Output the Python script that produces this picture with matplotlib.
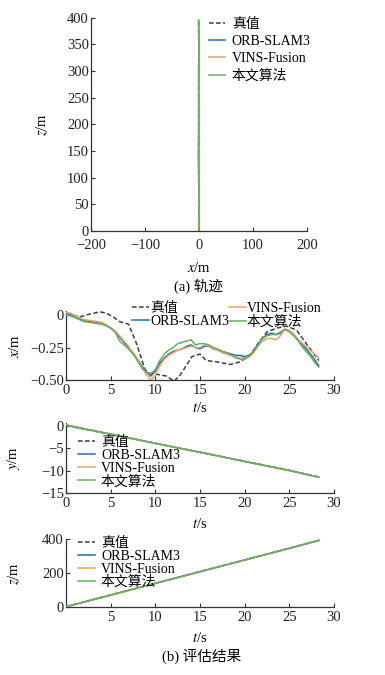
import matplotlib
matplotlib.use('Agg')
import matplotlib.pyplot as plt

plt.rcParams['font.family'] = ['Liberation Serif', 'Noto Sans CJK SC']
plt.rcParams['mathtext.fontset'] = 'stix'
plt.rcParams['axes.unicode_minus'] = True

names = ['真值', 'ORB-SLAM3', 'VINS-Fusion', '本文算法']
colors = ['#3c3c4a', '#1f6fb4', '#f0a060', '#66b060']

# x 方向 (m)
t_gt = [0, 1, 1.5, 2.5, 3.8, 4.5, 5.3, 6.0, 7.0, 7.9, 8.85, 9.4, 10.5, 11.3,
        12.1, 12.8, 13.5, 14.1, 15.0, 15.7, 16.9, 18.4, 19.5, 20.6, 21.7, 22.5,
        23.6, 24.7, 25.8, 26.9, 28.3]
x_gt = [0, -0.005, -0.015, 0.005, 0.025, 0.015, -0.015, -0.05, -0.07, -0.22,
        -0.42, -0.45, -0.46, -0.47, -0.51, -0.46, -0.385, -0.32, -0.30, -0.35,
        -0.36, -0.38, -0.36, -0.31, -0.2, -0.13, -0.1, -0.085, -0.115, -0.22, -0.35]

t_est = [0, 0.5, 1, 1.5, 2, 2.5, 3, 3.5, 4, 4.5, 5, 5.5, 6, 6.5, 7, 7.5, 8, 8.5,
         9, 9.5, 10, 10.5, 11, 11.5, 12, 12.5, 13, 13.5, 14, 14.5, 15, 15.5, 16,
         16.5, 17, 17.5, 18, 18.5, 19, 19.5, 20, 20.5, 21, 21.5, 22, 22.5, 23,
         23.5, 24, 24.5, 25, 25.5, 26, 26.5, 27, 27.5, 28, 28.3]
x_orb = [0.005, 0.005, -0.01, -0.03, -0.04, -0.05, -0.05, -0.06, -0.07, -0.08,
         -0.1, -0.13, -0.17, -0.21, -0.25, -0.29, -0.34, -0.39, -0.44, -0.47,
         -0.43, -0.37, -0.33, -0.30, -0.28, -0.27, -0.26, -0.24, -0.23, -0.25,
         -0.26, -0.24, -0.24, -0.26, -0.27, -0.28, -0.29, -0.30, -0.31, -0.31,
         -0.32, -0.31, -0.28, -0.22, -0.18, -0.15, -0.14, -0.15, -0.14, -0.11,
         -0.12, -0.15, -0.19, -0.23, -0.27, -0.31, -0.36, -0.39]
x_vins = [0.02, 0.015, -0.005, -0.02, -0.035, -0.04, -0.045, -0.05, -0.055,
          -0.075, -0.1, -0.12, -0.16, -0.2, -0.24, -0.29, -0.34, -0.40, -0.46,
          -0.50, -0.46, -0.39, -0.34, -0.31, -0.29, -0.27, -0.26, -0.25, -0.24,
          -0.25, -0.25, -0.23, -0.24, -0.26, -0.27, -0.29, -0.30, -0.31, -0.32,
          -0.33, -0.33, -0.32, -0.29, -0.24, -0.2, -0.18, -0.18, -0.19, -0.16,
          -0.11, -0.12, -0.15, -0.19, -0.22, -0.25, -0.28, -0.31, -0.33]
x_ours = [0.0, -0.005, -0.02, -0.035, -0.05, -0.055, -0.06, -0.065, -0.07, -0.08,
          -0.1, -0.13, -0.2, -0.23, -0.26, -0.3, -0.35, -0.41, -0.44, -0.45,
          -0.42, -0.35, -0.3, -0.27, -0.25, -0.22, -0.21, -0.2, -0.19, -0.23,
          -0.22, -0.22, -0.23, -0.25, -0.26, -0.28, -0.29, -0.31, -0.33, -0.34,
          -0.34, -0.32, -0.28, -0.23, -0.18, -0.16, -0.15, -0.15, -0.13, -0.11,
          -0.13, -0.16, -0.2, -0.25, -0.29, -0.33, -0.38, -0.40]

# y, z 方向 (m)
t_lin = [0, 5, 10, 15, 20, 25, 28.3]
y_gt = [0, -1.95, -3.9, -5.95, -7.9, -9.9, -11.4]
y_est = [0.1, -1.9, -3.95, -5.9, -7.95, -9.95, -11.45]
z_gt = [0, 70, 139, 209, 278, 348, 394]
z_est = [0, 69, 139, 208, 278, 347, 395]

# 轨迹 (x, z) at t_lin
traj_x = [0, -0.1, -0.43, -0.26, -0.32, -0.12, -0.38]

fig = plt.figure(figsize=(3.85, 6.75), dpi=100)
fs = 10.5   # ticks / labels
lfs = 10    # legend
spine_c = '#333333'


def style(ax):
    for s in ['top', 'right']:
        ax.spines[s].set_visible(False)
    for s in ['left', 'bottom']:
        ax.spines[s].set_color(spine_c)
        ax.spines[s].set_linewidth(0.9)
    ax.tick_params(direction='in', length=3, width=0.8, colors=spine_c,
                   labelsize=fs, labelcolor='#222222')
    ax.tick_params(axis='x', pad=3)
    ax.tick_params(axis='y', pad=1.5)


def draw(ax, tg, g, te, series):
    ax.plot(tg, g, color=colors[0], lw=1.1, ls=(0, (3, 1.6)), label=names[0], zorder=2)
    for s, c, n in zip(series, colors[1:], names[1:]):
        ax.plot(te, s, color=c, lw=1.1, label=n, zorder=3)


# (a) 轨迹
ax0 = fig.add_axes([0.236, 0.658, 0.561, 0.3156])
style(ax0)
ax0.tick_params(axis='x', pad=6)
ax0.plot(traj_x, z_gt, color=colors[0], lw=1.1, ls=(0, (3, 1.6)), label=names[0])
for c, n in zip(colors[1:], names[1:]):
    ax0.plot(traj_x, z_est, color=c, lw=1.1, label=n)
ax0.set_xlim(-200, 200)
ax0.set_ylim(0, 400)
ax0.set_xticks([-200, -100, 0, 100, 200])
ax0.set_yticks(range(0, 401, 50))
ax0.set_xlabel('$x$/m', fontsize=fs, labelpad=6)
ax0.set_ylabel('$z$/m', fontsize=fs)
ax0.yaxis.set_label_coords(-0.19, 0.5)
ax0.legend(loc='upper left', bbox_to_anchor=(0.546, 1.0), frameon=False,
           fontsize=lfs, handlelength=1.2, handletextpad=0.45, labelspacing=0.3,
           borderpad=0, borderaxespad=0)
fig.text(0.515, 1 - 286 / 675, '(a) 轨迹', ha='center', va='center', fontsize=fs)

# (b) x
ax1 = fig.add_axes([0.1714, 0.437, 0.696, 0.102])
style(ax1)
draw(ax1, t_gt, x_gt, t_est, [x_orb, x_vins, x_ours])
ax1.set_xlim(0, 30)
ax1.set_ylim(-0.5, 0.03)
ax1.set_xticks(range(0, 31, 5))
ax1.set_yticks([0, -0.25, -0.5])
ax1.set_yticklabels(['0', '\u22120.25', '\u22120.50'])
ax1.set_xlabel('$t$/s', fontsize=fs, labelpad=3)
ax1.set_ylabel('$x$/m', fontsize=fs)
ax1.yaxis.set_label_coords(-0.165, 0.5)
ax1.legend(loc='upper left', bbox_to_anchor=(0.246, 1.14), ncol=2, frameon=False,
           fontsize=lfs, handlelength=1.2, handletextpad=0.1, labelspacing=0.05,
           columnspacing=0.0, borderpad=0, borderaxespad=0)

# (b) y
ax2 = fig.add_axes([0.1714, 0.2692, 0.696, 0.1037])
style(ax2)
draw(ax2, t_lin, y_gt, t_lin, [y_est, y_est, y_est])
ax2.set_xlim(0, 30)
ax2.set_ylim(-15, 0.5)
ax2.set_xticks(range(0, 31, 5))
ax2.set_yticks([0, -5, -10, -15])
ax2.set_xlabel('$t$/s', fontsize=fs, labelpad=5)
ax2.set_ylabel('$y$/m', fontsize=fs)
ax2.yaxis.set_label_coords(-0.165, 0.5)
ax2.legend(loc='upper left', bbox_to_anchor=(0.045, 0.82), frameon=False,
           fontsize=lfs, handlelength=1.2, handletextpad=0.45, labelspacing=0.0,
           borderpad=0, borderaxespad=0)

# (b) z
ax3 = fig.add_axes([0.1714, 0.1012, 0.696, 0.0996])
style(ax3)
draw(ax3, t_lin, z_gt, t_lin, [z_est, z_est, z_est])
ax3.set_xlim(0, 30)
ax3.set_ylim(0, 400)
ax3.set_xticks(range(5, 31, 5))
ax3.set_yticks([0, 200, 400])
ax3.set_xlabel('$t$/s', fontsize=fs, labelpad=5)
ax3.set_ylabel('$z$/m', fontsize=fs)
ax3.yaxis.set_label_coords(-0.165, 0.5)
ax3.legend(loc='upper left', bbox_to_anchor=(0.045, 1.04), frameon=False,
           fontsize=lfs, handlelength=1.2, handletextpad=0.45, labelspacing=0.0,
           borderpad=0, borderaxespad=0)
fig.text(0.525, 1 - 656 / 675, '(b) 评估结果', ha='center', va='center', fontsize=fs)

fig.savefig('out.png', dpi=100)
